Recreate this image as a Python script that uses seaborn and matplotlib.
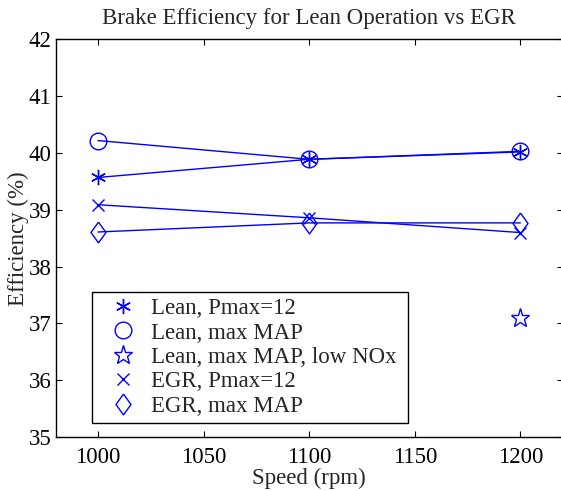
import matplotlib
matplotlib.use("Agg")
import matplotlib.pyplot as plt
from matplotlib.lines import Line2D
import seaborn as sns
import pandas as pd

# Engine speeds and brake efficiencies (%)
speed = [1000, 1100, 1200]
lean_pmax12 = [39.57, 39.89, 40.02]
lean_maxmap = [40.22, 39.89, 40.03]
lean_lownox_speed = [1200]
lean_lownox = [37.10]
egr_pmax12 = [39.09, 38.86, 38.60]
egr_maxmap = [38.61, 38.77, 38.77]

labels = ["Lean, Pmax=12", "Lean, max MAP", "Lean, max MAP, low NOx",
          "EGR, Pmax=12", "EGR, max MAP"]

sns.set_theme(style="ticks")
plt.rcParams["font.family"] = ["Liberation Serif", "DejaVu Serif"]
plt.rcParams.update({
    "xtick.direction": "in", "ytick.direction": "in",
    "xtick.top": True, "ytick.right": True,
    "xtick.major.size": 4, "ytick.major.size": 4,
    "xtick.major.width": 0.8, "ytick.major.width": 0.8,
    "axes.edgecolor": "black", "axes.linewidth": 1.0,
    "xtick.color": "black", "ytick.color": "black",
})

FS = 16.5
blue = (0, 0, 1)
asterisk = (6, 2, 0)
diamond = [(0, 1), (0.72, 0), (0, -1), (-0.72, 0), (0, 1)]

fig = plt.figure(figsize=(5.61, 4.91), dpi=100)
ax = fig.add_axes([0.0993, 0.110, 0.9035, 0.8096])

series = [
    (speed, lean_pmax12, asterisk, 11, "-"),
    (speed, lean_maxmap, "o", 12, "-"),
    (lean_lownox_speed, lean_lownox, "*", 14, "none"),
    (speed, egr_pmax12, "x", 8, "-"),
    (speed, egr_maxmap, diamond, 15, "-"),
]

handles = []
for (xs, ys, mk, ms, ls), lab in zip(series, labels):
    df = pd.DataFrame({"speed": xs, "eff": ys})
    sns.lineplot(data=df, x="speed", y="eff", ax=ax, color=blue,
                 linewidth=1.0, linestyle=ls, marker=mk, markersize=ms,
                 markerfacecolor="none", markeredgecolor=blue,
                 markeredgewidth=1.0, legend=False)
    handles.append(Line2D([], [], linestyle="none", marker=mk, markersize=ms,
                          markerfacecolor="none", markeredgecolor=blue,
                          markeredgewidth=1.0, label=lab))

ax.set_xlim(980, 1220)
ax.set_ylim(35, 42)
ax.set_xticks([1000, 1050, 1100, 1150, 1200])
ax.set_yticks([35, 36, 37, 38, 39, 40, 41, 42])
ax.tick_params(axis="x", labelsize=FS, pad=7.5)
ax.tick_params(axis="y", labelsize=FS, pad=3)
ax.set_xlabel("Speed (rpm)", fontsize=FS, labelpad=-0.5)
ax.set_ylabel("Efficiency (%)", fontsize=FS, labelpad=0)
ax.set_title("Brake Efficiency for Lean Operation vs EGR", fontsize=FS, pad=11)

leg = ax.legend(handles=handles, loc="lower left", mode="expand",
                bbox_to_anchor=(0.0722, 0.036, 0.6226, 0.323), borderaxespad=0,
                fontsize=FS, frameon=True, fancybox=False,
                handlelength=2.2, handletextpad=0.1, labelspacing=0.15,
                borderpad=0.25)
leg.get_frame().set_edgecolor("black")
leg.get_frame().set_linewidth(1.0)
leg.get_frame().set_alpha(1)

fig.savefig("out.png", dpi=100)
